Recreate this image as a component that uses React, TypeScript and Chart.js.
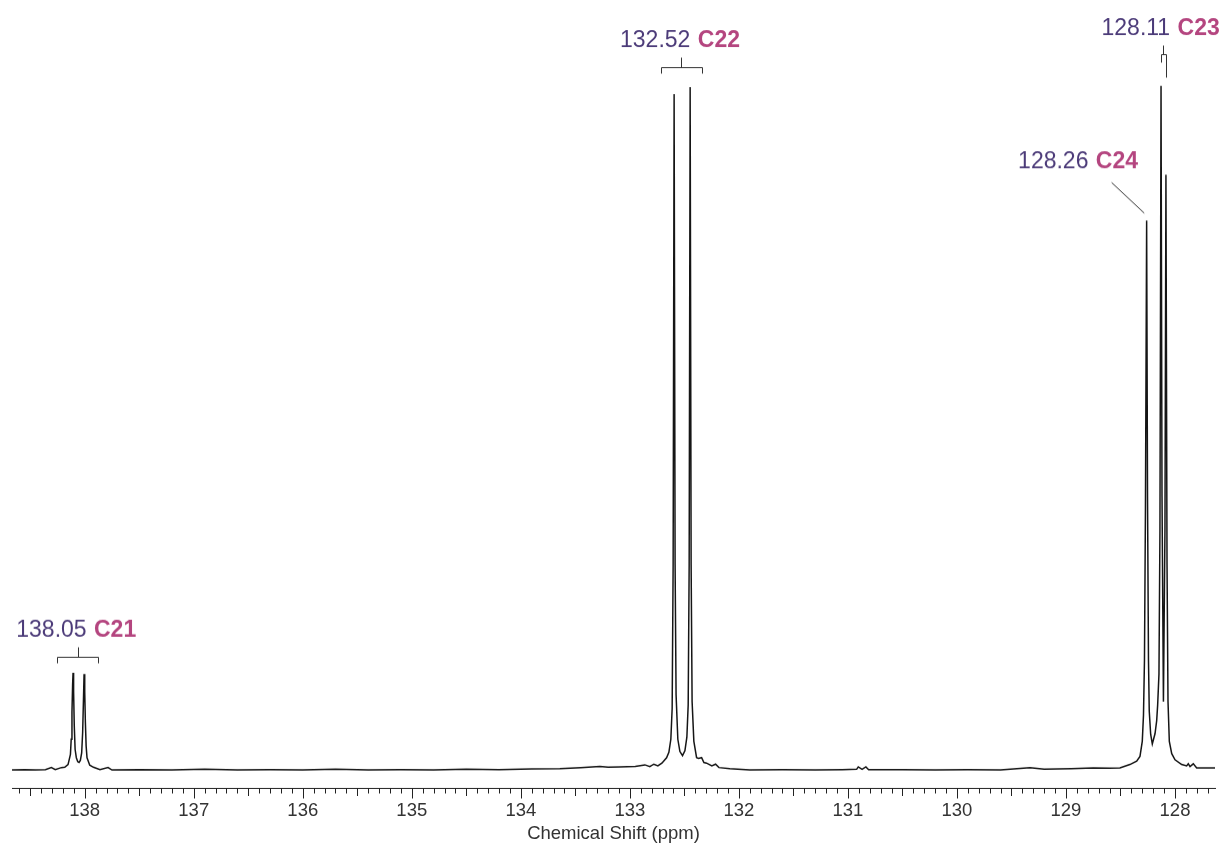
import React, { useEffect, useRef } from "react";
import { Chart, registerables } from "chart.js";

Chart.register(...registerables);

// Chemical shift (ppm) of each sampled point of the spectrum, high to low
const shifts = [
  138.667, 138.55, 138.45, 138.36, 138.306, 138.27, 138.214, 138.183, 138.153, 138.131,
  138.124, 138.117, 138.111, 138.107, 138.102, 138.096, 138.088, 138.077, 138.064, 138.052,
  138.04, 138.028, 138.019, 138.012, 138.006, 138.0, 137.994, 137.987, 137.979, 137.954,
  137.92, 137.86, 137.786, 137.75, 137.5, 137.2, 136.9, 136.6, 136.3, 136.0,
  135.7, 135.4, 135.1, 134.8, 134.5, 134.2, 133.9, 133.642, 133.45, 133.275,
  133.2, 133.092, 132.95, 132.862, 132.817, 132.78, 132.743, 132.706, 132.663, 132.642,
  132.624, 132.612, 132.603, 132.594, 132.585, 132.576, 132.56, 132.541, 132.517, 132.495,
  132.477, 132.465, 132.456, 132.447, 132.438, 132.429, 132.413, 132.388, 132.37, 132.342,
  132.321, 132.297, 132.248, 132.214, 132.183, 132.083, 131.9, 131.6, 131.3, 131.05,
  130.92, 130.905, 130.87, 130.835, 130.81, 130.5, 130.2, 129.9, 129.6, 129.33,
  129.2, 128.95, 128.75, 128.6, 128.505, 128.413, 128.351, 128.321, 128.3, 128.289,
  128.28, 128.271, 128.26, 128.252, 128.243, 128.236, 128.223, 128.208, 128.183, 128.168,
  128.159, 128.147, 128.138, 128.128, 128.119, 128.106, 128.092, 128.083, 128.073, 128.064,
  128.052, 128.03, 128.0, 127.939, 127.893, 127.878, 127.862, 127.832, 127.801, 127.633,
];

// Signal intensity at each shift (tallest line = 100)
const intensities = [
  0.0, 0.05, 0.0, 0.05, 0.35, 0.05, 0.35, 0.4, 0.8, 2.3,
  4.5, 8.5, 12.5, 14.2, 11.5, 6.5, 3.0, 1.8, 1.2, 1.1,
  1.4, 2.5, 5.5, 10.0, 14.0, 11.5, 7.0, 3.5, 1.8, 0.7,
  0.4, 0.05, 0.35, 0.0, 0.05, 0.0, 0.1, 0.0, 0.05, 0.0,
  0.1, 0.0, 0.05, 0.0, 0.1, 0.05, 0.15, 0.2, 0.35, 0.5,
  0.4, 0.45, 0.5, 0.75, 0.5, 0.85, 0.6, 1.0, 1.8, 2.6,
  4.5, 9.0, 30, 98.8, 30, 11, 4.5, 2.7, 2.1, 2.8,
  4.8, 9.5, 30, 99.8, 30, 10, 4.2, 1.8, 1.7, 1.8,
  1.1, 1.0, 0.6, 0.85, 0.35, 0.2, 0.0, 0.05, 0.0, 0.05,
  0.1, 0.45, 0.1, 0.45, 0.05, 0.05, 0.0, 0.05, 0.0, 0.35,
  0.1, 0.2, 0.3, 0.25, 0.3, 0.8, 1.3, 2.0, 4.2, 8,
  16, 38, 80.3, 40, 16, 8.6, 5.2, 3.8, 5.3, 7.2,
  9.5, 14, 35, 100, 40, 10, 35, 87.0, 30, 10,
  4.2, 2.4, 1.5, 0.8, 0.6, 0.9, 0.5, 0.9, 0.3, 0.3,
];

// Labelled axis ticks (ppm)
const tickValues = [128, 129, 130, 131, 132, 133, 134, 135, 136, 137, 138];

// Peak annotations
const labelShifts = ["138.05", "132.52", "128.11", "128.26"];
const labelAtoms = ["C21", "C22", "C23", "C24"];

const axisTitle = "Chemical Shift (ppm)";

const FONT = "'Liberation Sans', Arial, Helvetica, sans-serif";
const NUM_COLOR = "#4b3a78";
const ATOM_COLOR = "#b4457f";
const INK = "#222";

// Annotation geometry in data units: [ppm, intensity]
const annotationGeometry = [
  {
    text: [138.628, 19.44],
    lines: [
      [[138.064, 17.98], [138.064, 16.56]],
      [[138.254, 15.6], [138.254, 16.56], [137.874, 16.56], [137.874, 15.6]],
    ],
  },
  {
    text: [133.09, 105.6],
    lines: [
      [[132.532, 104.24], [132.532, 102.78]],
      [[132.718, 101.86], [132.718, 102.78], [132.337, 102.78], [132.337, 101.86]],
    ],
  },
  {
    text: [128.674, 107.41],
    lines: [
      [[128.107, 105.95], [128.107, 104.63]],
      [[128.131, 103.51], [128.131, 104.63], [128.085, 104.63], [128.085, 101.32]],
    ],
  },
  {
    text: [129.439, 87.91],
    lines: [[[128.581, 85.86], [128.282, 81.39]]],
  },
];

const nmrPlugin = {
  id: "nmrDecor",
  afterDraw(chart: any) {
    const { ctx, chartArea } = chart;
    const xs = chart.scales.x;
    const ys = chart.scales.y;
    ctx.save();
    // tick marks: minor every 0.1, medium every 0.5, major every 1 ppm
    ctx.strokeStyle = INK;
    ctx.lineWidth = 1;
    const lo = Math.ceil(xs.min * 10);
    const hi = Math.floor(xs.max * 10);
    for (let k = lo; k <= hi; k++) {
      const px = Math.round(xs.getPixelForValue(k / 10)) + 0.5;
      const len = k % 10 === 0 ? 10.5 : k % 5 === 0 ? 8 : 5.5;
      ctx.beginPath();
      ctx.moveTo(px, chartArea.bottom);
      ctx.lineTo(px, chartArea.bottom + len);
      ctx.stroke();
    }
    // annotations
    annotationGeometry.forEach((a, i) => {
      ctx.strokeStyle = "#333";
      ctx.lineWidth = 1;
      a.lines.forEach((pl) => {
        ctx.beginPath();
        pl.forEach(([p, v], j) => {
          let px = xs.getPixelForValue(p);
          let py = ys.getPixelForValue(v);
          if (i < 3) {
            px = Math.round(px) + 0.5;
            py = Math.round(py) + 0.5;
          }
          if (j === 0) ctx.moveTo(px, py);
          else ctx.lineTo(px, py);
        });
        ctx.stroke();
      });
      const tx = xs.getPixelForValue(a.text[0]);
      const ty = ys.getPixelForValue(a.text[1]);
      ctx.textBaseline = "alphabetic";
      ctx.textAlign = "left";
      ctx.font = `23px ${FONT}`;
      ctx.fillStyle = NUM_COLOR;
      const numText = labelShifts[i] + " ";
      ctx.fillText(numText, tx, ty);
      const w = ctx.measureText(numText).width;
      ctx.font = `bold 23px ${FONT}`;
      ctx.fillStyle = ATOM_COLOR;
      ctx.fillText(labelAtoms[i], tx + w + 1, ty);
    });
    ctx.restore();
  },
};

export default function App() {
  const canvasRef = useRef<HTMLCanvasElement | null>(null);

  useEffect(() => {
    if (!canvasRef.current) return;
    const data = shifts.map((s, i) => ({ x: s, y: intensities[i] }));
    const chart = new Chart(canvasRef.current, {
      type: "line",
      data: {
        datasets: [
          {
            data,
            borderColor: "#151515",
            borderWidth: 1.5,
            pointRadius: 0,
            tension: 0,
            fill: false,
          },
        ],
      },
      options: {
        animation: false,
        responsive: true,
        maintainAspectRatio: false,
        layout: { padding: { left: 12, right: 11, top: 0, bottom: 0 } },
        plugins: {
          legend: { display: false },
          tooltip: { enabled: false },
        },
        scales: {
          x: {
            type: "linear",
            reverse: true,
            min: 127.633,
            max: 138.667,
            afterBuildTicks: (scale: any) => {
              scale.ticks = tickValues.map((v) => ({ value: v }));
            },
            ticks: {
              autoSkip: false,
              maxRotation: 0,
              padding: 11.4,
              color: "#333",
              font: { family: FONT, size: 18.5 },
              callback: (v: any) => String(v),
            },
            grid: { display: false, drawTicks: false },
            border: { display: true, color: INK, width: 1 },
            title: {
              display: true,
              text: axisTitle,
              color: "#333",
              font: { family: FONT, size: 18.5 },
              padding: { top: -10.6, bottom: 0 },
            },
          },
          y: {
            type: "linear",
            display: false,
            min: -2.63,
            max: 112.43,
          },
        },
      },
      plugins: [nmrPlugin],
    });
    return () => chart.destroy();
  }, []);

  return (
    <div
      style={{
        position: "fixed",
        left: 0,
        top: 0,
        width: "1226px",
        height: "843.6px",
        background: "#fff",
      }}
    >
      <canvas ref={canvasRef} />
    </div>
  );
}
